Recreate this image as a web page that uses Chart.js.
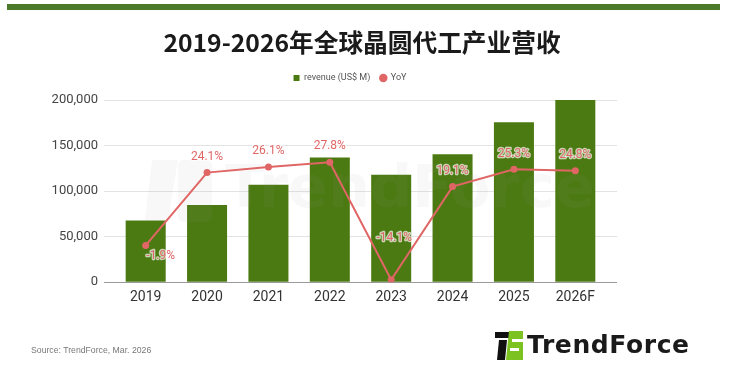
<!DOCTYPE html>
<html>
<head>
<meta charset="utf-8">
<script src="https://cdn.jsdelivr.net/npm/chart.js@4.4.1/dist/chart.umd.min.js"></script>
<style>
  body { margin: 0; background: #fff; }
  #wrap { position: relative; width: 735px; height: 380px; overflow: hidden; background: #fff; }
  .topbar { position: absolute; left: 7px; top: 4px; width: 713px; height: 6px; background: #4b7b2a; }
  .title { position: absolute; left: 0; top: 26px; width: 724px; line-height: 30px; text-align: center;
           font-family: "Noto Sans CJK SC", sans-serif; font-weight: bold; font-size: 24.7px; color: #1a1a1a; }
  .chartbox { position: absolute; left: 0; top: 0; width: 700px; height: 380px; }
  .source { position: absolute; left: 31px; top: 345px; font-family: "Liberation Sans", sans-serif;
            font-size: 8.7px; color: #777; line-height: 11px; }
  .logo { position: absolute; left: 495px; top: 331px; height: 30px; }
  .logo svg { position: absolute; left: 0; top: 0; }
  .logo span { position: absolute; left: 32px; top: -1px; font-family: "DejaVu Sans", sans-serif; font-weight: bold;
               font-size: 25px; line-height: 30px; color: #1a1a1a; letter-spacing: 0.6px; white-space: nowrap; }
</style>
</head>
<body>
<div id="wrap">
  <div class="topbar"></div>
  <div class="chartbox"><canvas id="foundryChart" width="700" height="380"></canvas></div>
  <div class="title">2019-2026年全球晶圆代工产业营收</div>
  <div class="source">Source: TrendForce, Mar. 2026</div>
  <div class="logo">
    <svg width="30" height="30" viewBox="0 0 30 30">
      <polygon points="0,1 19,1 18,7 0,7" fill="#111"/>
      <polygon points="4,9 12,9 10,29 2,29" fill="#111"/>
      <polygon points="14,0 28,0 28,29 11,29" fill="#7cc221"/>
      <rect x="17" y="8" width="11" height="3" fill="#fff"/>
      <rect x="15" y="17" width="9" height="3" fill="#fff"/>
    </svg>
    <span>TrendForce</span>
  </div>
</div>

<script>
// 2019-2026 全球晶圆代工产业营收
const years = ['2019', '2020', '2021', '2022', '2023', '2024', '2025', '2026F'];
const revenue = [67800, 84800, 106900, 137000, 118000, 140500, 175500, 200000]; // US$ M
const yoy = [-1.9, 24.1, 26.1, 27.8, -14.1, 19.1, 25.3, 24.8]; // %

Chart.defaults.font.family = 'Roboto';

// legend height +7.5 so the plot starts a bit lower
const legendSpace = {
  id: 'legendSpace',
  beforeInit(chart) {
    const fit = chart.legend.fit;
    chart.legend.fit = function () {
      fit.bind(chart.legend)();
      this.height += 7.5;
    };
  }
};

// faint watermark, drawn over the bars but under the line
const watermark = {
  id: 'watermark',
  afterDatasetDraw(chart, args) {
    if (args.index !== 0) return;
    const ctx = chart.ctx;
    ctx.save();
    ctx.fillStyle = 'rgba(150,150,150,0.07)';
    ctx.beginPath();
    ctx.moveTo(152, 160); ctx.lineTo(178, 160); ctx.lineTo(168, 220); ctx.lineTo(145, 220);
    ctx.closePath();
    ctx.fill();
    ctx.beginPath();
    ctx.roundRect(178, 160, 34, 62, 6);
    ctx.fill();
    ctx.font = 'bold 59px "DejaVu Sans"';
    ctx.textBaseline = 'alphabetic';
    ctx.fillText('TrendForce', 225, 207);
    ctx.restore();
  }
};

// YoY 数值标签
const yoyLabels = {
  id: 'yoyLabels',
  afterDatasetsDraw(chart, args, opts) {
    const meta = chart.getDatasetMeta(1);
    const ctx = chart.ctx;
    ctx.save();
    ctx.font = '12px Roboto';
    ctx.textAlign = 'center';
    ctx.textBaseline = 'middle';
    ctx.lineJoin = 'round';
    meta.data.forEach((pt, i) => {
      const n = opts.nudge[i] || [0, -16];
      const txt = yoy[i].toFixed(1) + '%';
      ctx.strokeStyle = 'rgba(255,255,255,0.7)';
      ctx.lineWidth = 2.5;
      ctx.strokeText(txt, pt.x + n[0], pt.y + n[1]);
      ctx.fillStyle = '#e06666';
      ctx.fillText(txt, pt.x + n[0], pt.y + n[1]);
    });
    ctx.restore();
  }
};

let ctx = document.getElementById('foundryChart').getContext('2d');
window.foundryChart = new Chart(ctx, {
  type: 'bar',
  data: {
    labels: years,
    datasets: [
      {
        label: 'revenue (US$ M)',
        data: revenue,
        backgroundColor: '#4c7a12',
        borderWidth: 0,
        pointStyle: 'rect',
        categoryPercentage: 1,
        barPercentage: 0.652,
        yAxisID: 'y',
        order: 1
      },
      {
        type: 'line',
        label: 'YoY',
        data: yoy,
        borderColor: '#e06666',
        backgroundColor: '#e06666',
        borderWidth: 2,
        pointRadius: 3.5,
        pointBorderWidth: 0,
        pointBackgroundColor: '#e06666',
        pointStyle: 'circle',
        tension: 0,
        yAxisID: 'y2',
        order: 0
      }
    ]
  },
  options: {
    responsive: false,
    animation: false,
    layout: { padding: { top: 63.5, bottom: 67, left: 0, right: 0 } },
    plugins: {
      title: { display: false },
      tooltip: { enabled: false },
      legend: {
        display: true,
        position: 'top',
        labels: {
          usePointStyle: true,
          boxWidth: 6,
          boxHeight: 6,
          padding: 10,
          color: '#555',
          font: { size: 9 },
          sort: (a, b) => a.datasetIndex - b.datasetIndex,
          generateLabels(chart) {
            const items = Chart.defaults.plugins.legend.labels.generateLabels(chart);
            items.forEach(it => { it.lineWidth = 0; });
            return items;
          }
        }
      },
      yoyLabels: {
        nudge: [[15, 10.5], [0, -16], [0, -16], [0, -16.5], [3, -41.5], [0, -15.5], [0, -15.5], [0, -15.5]]
      }
    },
    scales: {
      x: {
        grid: { display: false, drawTicks: false },
        border: { display: false },
        ticks: { color: '#333', font: { size: 14 }, padding: 7 }
      },
      y: {
        position: 'left',
        min: 0,
        max: 200000,
        afterFit: s => { s.width = 115; },
        ticks: {
          stepSize: 50000,
          color: '#444',
          font: { size: 13 },
          padding: 6,
          callback: v => v.toLocaleString('en-US')
        },
        grid: {
          tickLength: 11,
          color: c => (c.tick && c.tick.value === 0 ? '#9a9a9a' : '#e3e3e3')
        },
        border: { display: false }
      },
      y2: {
        position: 'right',
        min: -15,
        max: 50,
        afterFit: s => { s.width = 94; },
        ticks: { display: false, stepSize: 16.25 },
        grid: {
          drawOnChartArea: false,
          tickLength: 11,
          color: c => (c.index === 0 ? '#9a9a9a' : '#e3e3e3')
        },
        border: { display: false }
      }
    }
  },
  plugins: [legendSpace, watermark, yoyLabels]
});
</script>
</body>
</html>
